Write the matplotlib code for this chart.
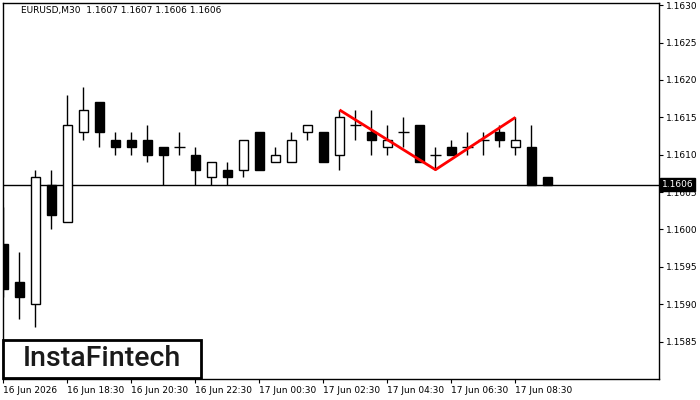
import matplotlib
matplotlib.use("Agg")
import matplotlib.pyplot as plt
from matplotlib.patches import Rectangle
import matplotlib.transforms as mtransforms

# ---- data ----
opens  = [1.1598, 1.1593, 1.1590, 1.1606, 1.1601, 1.1613, 1.1617, 1.1612, 1.1612, 1.1612,
          1.1611, 1.1611, 1.1610, 1.1607, 1.1608, 1.1608, 1.1613, 1.1609, 1.1609, 1.1613,
          1.1613, 1.1610, 1.1614, 1.1613, 1.1611, 1.1613, 1.1614, 1.1610, 1.1611, 1.1611,
          1.1612, 1.1613, 1.1611, 1.1611, 1.1607]
highs  = [1.1603, 1.1597, 1.1608, 1.1608, 1.1618, 1.1619, 1.1617, 1.1613, 1.1613, 1.1614,
          1.1611, 1.1613, 1.1611, 1.1609, 1.1609, 1.1612, 1.1613, 1.1611, 1.1613, 1.1614,
          1.1613, 1.1616, 1.1616, 1.1616, 1.1614, 1.1615, 1.1614, 1.1611, 1.1612, 1.1613,
          1.1613, 1.1614, 1.1615, 1.1614, 1.1607]
lows   = [1.1591, 1.1588, 1.1587, 1.1600, 1.1601, 1.1612, 1.1611, 1.1610, 1.1610, 1.1609,
          1.1606, 1.1610, 1.1606, 1.1606, 1.1606, 1.1607, 1.1608, 1.1609, 1.1609, 1.1612,
          1.1609, 1.1608, 1.1612, 1.1610, 1.1610, 1.1611, 1.1609, 1.1608, 1.1610, 1.1610,
          1.1610, 1.1611, 1.1610, 1.1606, 1.1606]
closes = [1.1592, 1.1591, 1.1607, 1.1602, 1.1614, 1.1616, 1.1613, 1.1611, 1.1611, 1.1610,
          1.1610, 1.1611, 1.1608, 1.1609, 1.1607, 1.1612, 1.1608, 1.1610, 1.1612, 1.1614,
          1.1609, 1.1615, 1.1614, 1.1612, 1.1612, 1.1613, 1.1609, 1.1610, 1.1610, 1.1611,
          1.1612, 1.1612, 1.1612, 1.1606, 1.1606]

current_price = 1.1606
pattern_idx = [21, 27, 32]
pattern_price = [1.1616, 1.1608, 1.1615]

xtick_idx = [0, 4, 8, 12, 16, 20, 24, 28, 32]
xtick_labels = ["16 Jun 2026", "16 Jun 18:30", "16 Jun 20:30", "16 Jun 22:30",
                "17 Jun 00:30", "17 Jun 02:30", "17 Jun 04:30", "17 Jun 06:30",
                "17 Jun 08:30"]
ytick_vals = [1.1585, 1.1590, 1.1595, 1.1600, 1.1605, 1.1610, 1.1615, 1.1620, 1.1625, 1.1630]
title_text = "EURUSD,M30  1.1607 1.1607 1.1606 1.1606"
logo_text = "InstaFintech"

# ---- figure ----
fig = plt.figure(figsize=(7, 4), dpi=100)
ax = fig.add_axes([3/700, 1 - 379/400, 656/700, 376/400])
ax.set_xlim(-0.03, 40.97)
ax.set_ylim(1.15800, 1.16303)

bw = 0.62
for i, (o, h, l, c) in enumerate(zip(opens, highs, lows, closes)):
    ax.vlines(i, l, h, color="black", linewidth=1, zorder=2)
    if o == c:
        ax.hlines(o, i - bw / 2 - 0.03, i + bw / 2 + 0.03, color="black", linewidth=1, zorder=3)
    else:
        bottom = min(o, c)
        height = abs(c - o)
        fc = "white" if c > o else "black"
        ax.add_patch(Rectangle((i - bw / 2, bottom), bw, height, facecolor=fc,
                               edgecolor="black", linewidth=1, zorder=3))

ax.axhline(current_price, color="black", linewidth=1, zorder=1)
ax.plot(pattern_idx, pattern_price, color="red", linewidth=2, zorder=4,
        solid_capstyle="butt")

# ticks
ax.yaxis.tick_right()
ax.set_yticks(ytick_vals)
ax.set_yticklabels([f"{v:.4f}" for v in ytick_vals])
ax.tick_params(axis="y", direction="out", length=3, width=0.8, pad=2, labelsize=6.5)
ax.set_xticks(xtick_idx)
ax.set_xticklabels(xtick_labels, ha="left")
ax.tick_params(axis="x", direction="out", length=3, width=0.8, pad=2, labelsize=6.5)
for sp in ax.spines.values():
    sp.set_linewidth(1)
    sp.set_color("black")

# current price label
trans = mtransforms.blended_transform_factory(ax.transAxes, ax.transData)
ax.text(1.004, current_price, f"{current_price:.4f}", transform=trans, fontsize=6.5,
        color="white", va="center", ha="left", zorder=10,
        bbox=dict(boxstyle="square,pad=0.2", facecolor="black", edgecolor="black"))

# title
ax.text(18/656, 1 - 8/376, title_text, transform=ax.transAxes, fontsize=6.5,
        va="center", ha="left", color="black")

# logo
fig.patches.append(Rectangle((3/700, 1 - 378/400), 198/700, 38/400, transform=fig.transFigure,
                             facecolor="white", edgecolor="black", linewidth=2, zorder=20))
fig.text(102/700, 1 - 359/400, logo_text, fontsize=20.5, family="Roboto", weight="medium",
         ha="center", va="center", color="#1a1a1a", zorder=21)

fig.savefig("out.png", dpi=100)
